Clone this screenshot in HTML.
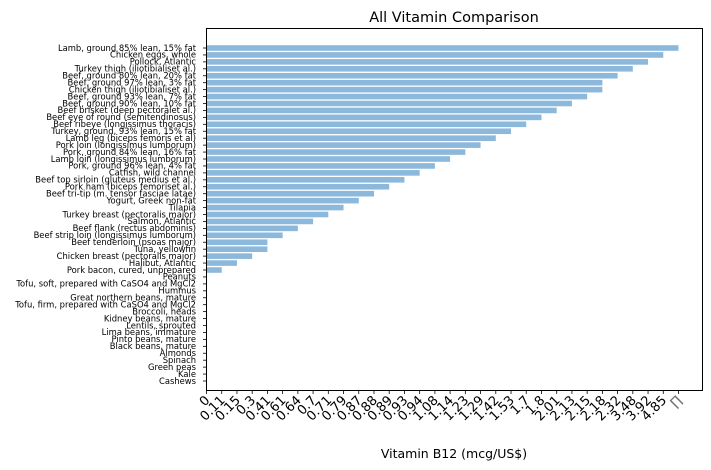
<!DOCTYPE html>
<html><head><meta charset="utf-8"><style>
html,body{margin:0;padding:0;background:#fff;}
svg{display:block;font-family:"DejaVu Sans","Liberation Sans",sans-serif;}
</style></head><body>
<svg id="chart" width="711" height="470" viewBox="0 0 711 470" xmlns="http://www.w3.org/2000/svg">
<text x="454" y="22" font-size="14.5" text-anchor="middle" fill="#000">All Vitamin Comparison</text>
<text x="454" y="458" font-size="12.5" text-anchor="middle" fill="#000">Vitamin B12 (mcg/US$)</text>
<g id="plot"></g>
<rect x="206.5" y="28.5" width="496" height="362" fill="none" stroke="#000" stroke-width="1"/>
</svg>
<script>
const foods = ["Lamb, ground 85% lean, 15% fat","Chicken eggs, whole","Pollock, Atlantic","Turkey thigh (iliotibialiset al.)","Beef, ground 80% lean, 20% fat","Beef, ground 97% lean, 3% fat","Chicken thigh (iliotibialiset al.)","Beef, ground 93% lean, 7% fat","Beef, ground 90% lean, 10% fat","Beef brisket (deep pectoralet al.)","Beef eye of round (semitendinosus)","Beef ribeye (longissimus thoracis)","Turkey, ground, 93% lean, 15% fat","Lamb leg (biceps femoris et al)","Pork loin (longissimus lumborum)","Pork, ground 84% lean, 16% fat","Lamb loin (longissimus lumborum)","Pork, ground 96% lean, 4% fat","Catfish, wild channel","Beef top sirloin (gluteus medius et al.)","Pork ham (biceps femoriset al.)","Beef tri-tip (m. tensor fasciae latae)","Yogurt, Greek non-fat","Tilapia","Turkey breast (pectoralis major)","Salmon, Atlantic","Beef flank (rectus abdominis)","Beef strip loin (longissimus lumborum)","Beef tenderloin (psoas major)","Tuna, yellowfin","Chicken breast (pectoralis major)","Halibut, Atlantic","Pork bacon, cured, unprepared","Peanuts","Tofu, soft, prepared with CaSO4 and MgCl2","Hummus","Great northern beans, mature","Tofu, firm, prepared with CaSO4 and MgCl2","Broccoli, heads","Kidney beans, mature","Lentils, sprouted","Lima beans, immature","Pinto beans, mature","Black beans, mature","Almonds","Spinach","Green peas","Kale","Cashews"];
const b12Values = ["∏","4.85","3.92","3.48","2.32","2.18","2.18","2.15","2.13","2.01","1.8","1.7","1.53","1.42","1.29","1.23","1.14","1.08","0.94","0.93","0.89","0.88","0.87","0.79","0.71","0.7","0.64","0.61","0.41","0.41","0.3","0.15","0.11","0","0","0","0","0","0","0","0","0","0","0","0","0","0","0","0"];
const tickLabels = ["0","0.11","0.15","0.3","0.41","0.61","0.64","0.7","0.71","0.79","0.87","0.88","0.89","0.93","0.94","1.08","1.14","1.23","1.29","1.42","1.53","1.7","1.8","2.01","2.13","2.15","2.18","2.32","3.48","3.92","4.85","∏"];

const NS="http://www.w3.org/2000/svg";
const g=document.getElementById('plot');
const x0=206, xStep=(678-206)/31;
const xScale=v=>x0+tickLabels.indexOf(v)*xStep;
const yTop=48, yStep=(381-48)/(foods.length-1);
const yScale=i=>yTop+i*yStep;
function mk(tag,attrs){const e=document.createElementNS(NS,tag);for(const k in attrs)e.setAttribute(k,attrs[k]);return e;}

foods.forEach((f,i)=>{
  const y=yScale(i);
  const w=xScale(b12Values[i])-x0;
  const bar=mk('rect',{x:x0+0.5,y:y-2.8,width:Math.max(w,0),height:5.6,fill:'#8cb8dc'});
  
  
  g.appendChild(bar);
  const tk=mk('line',{x1:x0+0.5,x2:x0-3,y1:y,y2:y,stroke:'#000','stroke-width':0.8});
  
  
  g.appendChild(tk);
  const t=mk('text',{x:x0-10,y:y+2.8,'font-size':8.4,'text-anchor':'end',fill:'#000'});
  t.textContent=f;
  
  
  g.appendChild(t);
});
tickLabels.forEach((l,i)=>{
  const x=x0+0.5+i*xStep;
  const tk=mk('line',{x1:x,x2:x,y1:390.5,y2:394,stroke:'#000','stroke-width':0.8});
  
  
  g.appendChild(tk);
  const t=mk('text',{x:x+4,y:401,'font-size':13,'text-anchor':'end',fill:l==='∏'?'#777':'#000',transform:`rotate(-45 ${x+4} 401)`});
  t.textContent=l;
  
  
  g.appendChild(t);
});
</script>
</body></html>
